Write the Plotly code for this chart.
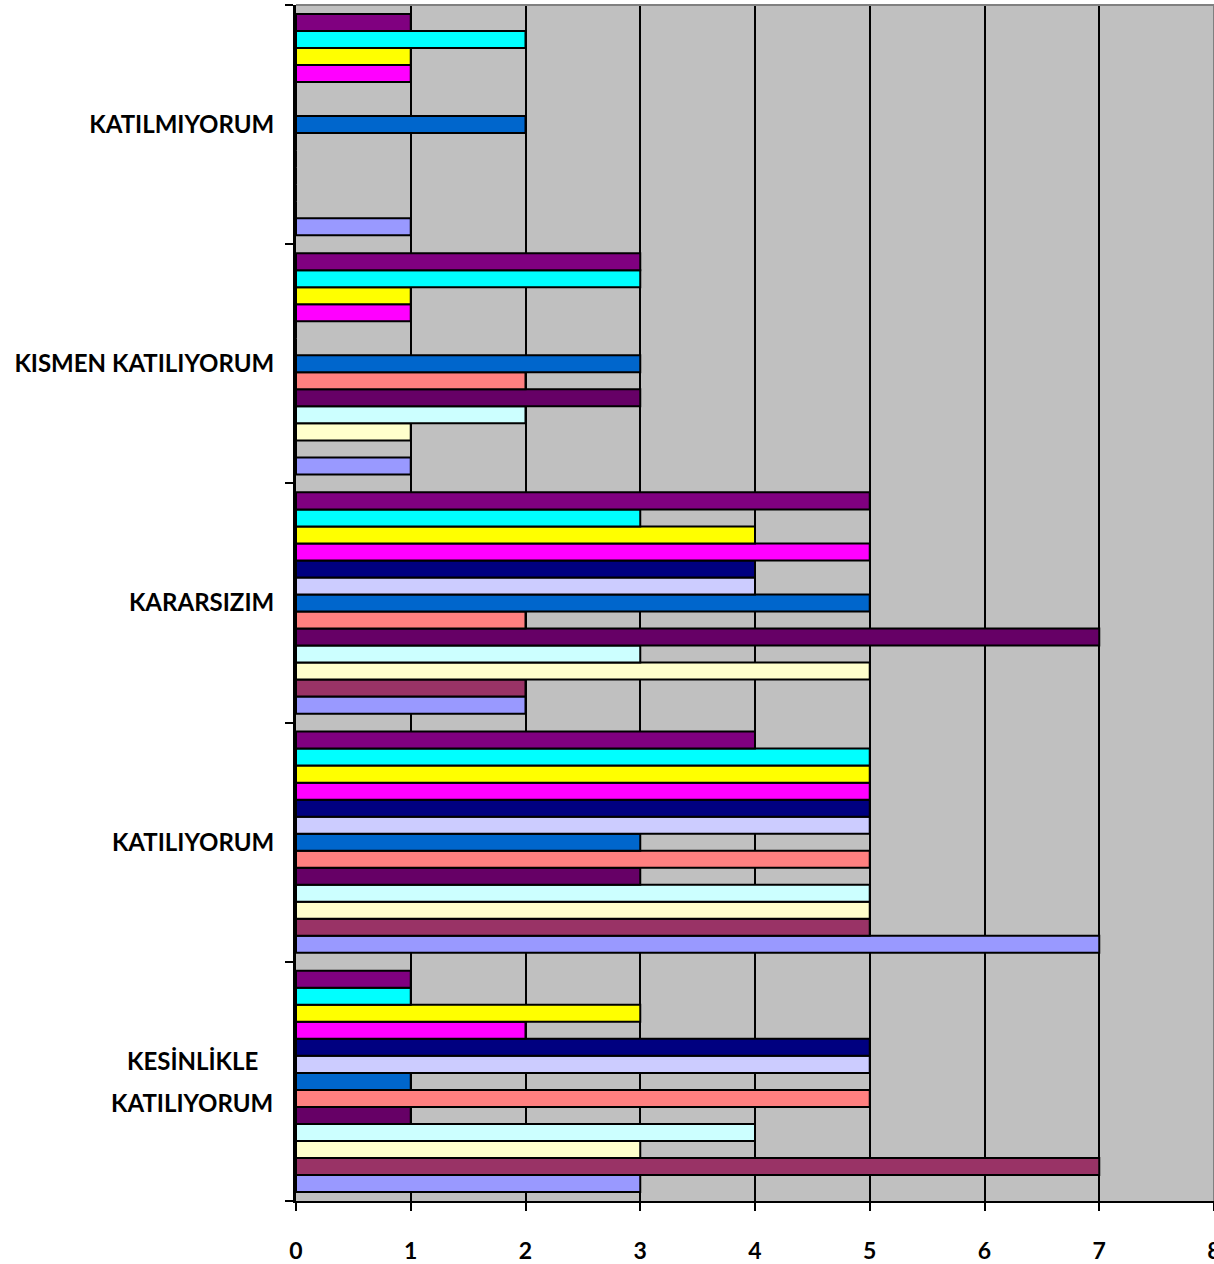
import plotly.graph_objects as go

categories = ["KESİNLİKLE KATILIYORUM", "KATILIYORUM", "KARARSIZIM", "KISMEN KATILIYORUM", "KATILMIYORUM"]
tick_labels = ["", "KATILIYORUM", "KARARSIZIM", "KISMEN KATILIYORUM", "KATILMIYORUM"]
wrapped_label_lines = ["KESİNLİKLE", "KATILIYORUM"]

series_names = [f"Seri {i}" for i in range(1, 14)]
s1 = [3, 7, 2, 1, 1]
s2 = [7, 5, 2, 0, 0]
s3 = [3, 5, 5, 1, 0]
s4 = [4, 5, 3, 2, 0]
s5 = [1, 3, 7, 3, 0]
s6 = [5, 5, 2, 2, 0]
s7 = [1, 3, 5, 3, 2]
s8 = [5, 5, 4, 0, 0]
s9 = [5, 5, 4, 0, 0]
s10 = [2, 5, 5, 1, 1]
s11 = [3, 5, 4, 1, 1]
s12 = [1, 5, 3, 3, 2]
s13 = [1, 4, 5, 3, 1]
series_values = [s1, s2, s3, s4, s5, s6, s7, s8, s9, s10, s11, s12, s13]
colors = ["#9999FF", "#993366", "#FFFFCC", "#CCFFFF", "#660066", "#FF8080", "#0066CC",
          "#CCCCFF", "#000080", "#FF00FF", "#FFFF00", "#00FFFF", "#800080"]
x_ticks = [0, 1, 2, 3, 4, 5, 6, 7, 8]

fig = go.Figure()
for name, vals, col in zip(series_names, series_values, colors):
    fig.add_trace(go.Bar(
        y=categories, x=vals, name=name, orientation="h",
        marker=dict(color=col, line=dict(color="black", width=2)),
    ))

font_fam = "Lato"
lab_font = dict(family=font_fam, size=24, color="black", weight="bold")

annotations = []
for line, shift in zip(wrapped_label_lines, [21, -21]):
    annotations.append(dict(
        x=0, xref="paper", xanchor="center", xshift=-104,
        y=categories[0], yref="y", yanchor="middle", yshift=shift,
        text=line, showarrow=False, font=lab_font,
    ))

fig.update_layout(
    width=1214, height=1264, autosize=False,
    margin=dict(l=296, r=0, t=5, b=63, autoexpand=False),
    barmode="group", bargap=0.075, bargroupgap=0,
    plot_bgcolor="#C0C0C0", paper_bgcolor="white",
    showlegend=False,
    font=dict(family=font_fam, color="black"),
    xaxis=dict(
        range=[0, 8], tickvals=x_ticks, ticktext=[str(v) for v in x_ticks],
        showgrid=True, gridcolor="black", gridwidth=2,
        ticks="outside", ticklen=8, tickwidth=2, tickcolor="black",
        showline=True, linecolor="black", linewidth=2,
        tickfont=dict(family=font_fam, size=23, color="black", weight="bold"),
        ticklabelstandoff=20, zeroline=False, ticklabeloverflow="allow",
        automargin=False,
    ),
    yaxis=dict(
        type="category", categoryorder="array", categoryarray=categories,
        tickvals=categories, ticktext=tick_labels,
        ticks="outside", ticklen=8, tickwidth=2, tickcolor="black",
        tickson="boundaries",
        showline=True, linecolor="black", linewidth=3,
        showgrid=False,
        tickfont=lab_font,
        ticklabelstandoff=14, automargin=False,
    ),
    annotations=annotations,
    shapes=[
        dict(type="line", xref="paper", yref="paper", x0=0, x1=1, y0=1, y1=1,
             line=dict(color="#808080", width=2)),
        dict(type="line", xref="paper", yref="paper", x0=1, x1=1, y0=0, y1=1,
             line=dict(color="#808080", width=2)),
    ],
)

fig.write_html(
    "out.html",
    config={"displayModeBar": False, "responsive": False},
    post_script=("document.body.style.margin='0';"
                 "document.body.style.overflow='hidden';"
                 "document.documentElement.style.overflow='hidden';"),
)
